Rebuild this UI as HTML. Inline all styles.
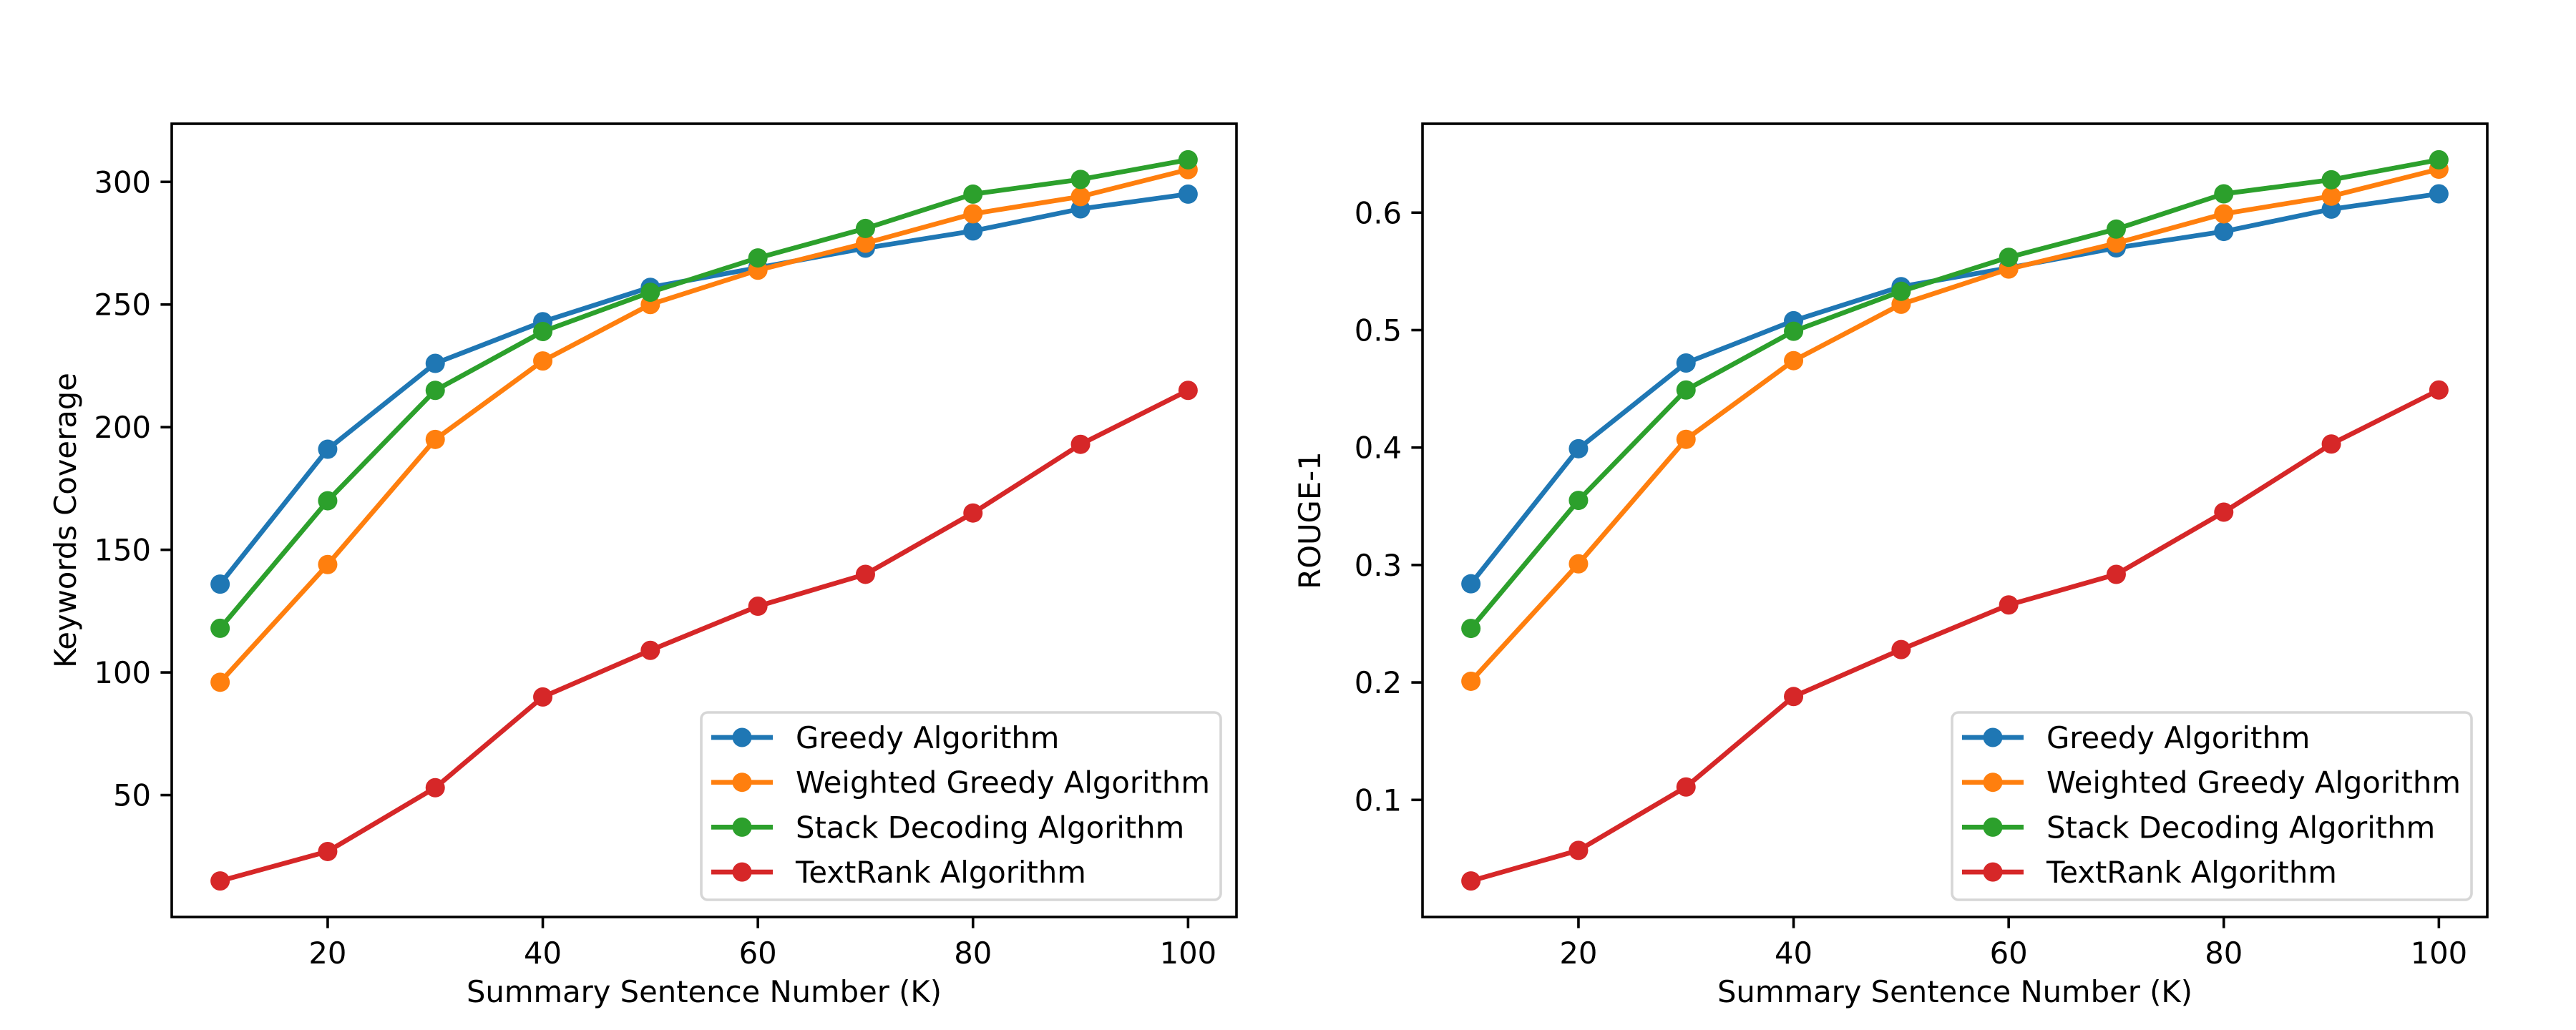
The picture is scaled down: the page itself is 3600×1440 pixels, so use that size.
<!DOCTYPE html>
<html><head><meta charset="utf-8"><style>
html,body{margin:0;padding:0;background:#fff}
svg{display:block;font-family:"DejaVu Sans","Liberation Sans",sans-serif}
</style></head><body>
<svg id="fig" width="3600" height="1440" viewBox="0 0 3600 1440" xmlns="http://www.w3.org/2000/svg"></svg>
<script>
const xValues = [10,20,30,40,50,60,70,80,90,100];
const xTicks = [20,40,60,80,100];
const seriesNames = ["Greedy Algorithm","Weighted Greedy Algorithm","Stack Decoding Algorithm","TextRank Algorithm"];
const seriesColors = ["#1f77b4","#ff7f0e","#2ca02c","#d62728"];
const kwGreedy = [136,191,226,243,257,265,273,280,289,295];
const kwWeighted = [96,144,195,227,250,264,275,287,294,305];
const kwStack = [118,170,215,239,255,269,281,295,301,309];
const kwTextRank = [15,27,53,90,109,127,140,165,193,215];
const kwTicks = [50,100,150,200,250,300];
const rgGreedy = [0.284,0.399,0.472,0.508,0.537,0.553,0.570,0.584,0.603,0.616];
const rgWeighted = [0.201,0.301,0.407,0.474,0.522,0.552,0.574,0.599,0.614,0.637];
const rgStack = [0.246,0.355,0.449,0.499,0.533,0.562,0.586,0.616,0.628,0.645];
const rgTextRank = [0.031,0.057,0.111,0.188,0.228,0.266,0.292,0.345,0.403,0.449];
const rgTicks = [0.1,0.2,0.3,0.4,0.5,0.6];

const NS = "http://www.w3.org/2000/svg";
const fig = document.getElementById('fig');
const FS = 41.7;
function mk(tag, attrs, parent){
  const e = document.createElementNS(NS, tag);
  for (const k in attrs) e.setAttribute(k, attrs[k]);
  (parent||fig).appendChild(e);
  return e;
}
function drawPanel(px, series, yTicks, yLabel, fmt, prefix){
  const L = px, R = px + 1488, T = 173, B = 1282;
  const all = [].concat(...series);
  const xmin = Math.min(...xValues), xmax = Math.max(...xValues);
  const ymin = Math.min(...all), ymax = Math.max(...all);
  const xm = (xmax-xmin)*0.05, ym = (ymax-ymin)*0.05;
  const x0 = xmin-xm, x1 = xmax+xm, y0 = ymin-ym, y1 = ymax+ym;
  const sx = v => L + (v-x0)/(x1-x0)*(R-L);
  const sy = v => B - (v-y0)/(y1-y0)*(B-T);
  const g = mk('g', {});
  
  
  series.forEach((s, i) => {
    const pts = s.map((v, j) => sx(xValues[j]).toFixed(1)+','+sy(v).toFixed(1)).join(' ');
    const pl = mk('polyline', {points: pts, fill:'none', stroke: seriesColors[i], 'stroke-width': 6.7, 'stroke-linejoin':'round','stroke-linecap':'square'}, g);
    
    
    s.forEach((v, j) => {
      const c = mk('circle', {cx: sx(xValues[j]), cy: sy(v), r: 13.5, fill: seriesColors[i]}, g);
      
      
    });
  });
  const fr = mk('rect', {x: L, y: T, width: R-L, height: B-T, fill:'none', stroke:'#000', 'stroke-width': 3.6}, g);
  
  
  xTicks.forEach(t => {
    const x = sx(t);
    mk('line', {x1:x, x2:x, y1:B, y2:B+15.6, stroke:'#000','stroke-width':3.6}, g);
    const tx = mk('text', {x:x, y:B+65, 'font-size':FS, 'text-anchor':'middle', fill:'#000'}, g);
    tx.textContent = t;
    
    
  });
  yTicks.forEach(t => {
    const y = sy(t);
    mk('line', {x1:L-15.6, x2:L, y1:y, y2:y, stroke:'#000','stroke-width':3.6}, g);
    const tx = mk('text', {x:L-29, y:y+15, 'font-size':FS, 'text-anchor':'end', fill:'#000'}, g);
    tx.textContent = fmt(t);
    
    
  });
  const xl = mk('text', {x:(L+R)/2, y:1401, 'font-size':FS, 'text-anchor':'middle', fill:'#000'}, g);
  xl.textContent = 'Summary Sentence Number (K)';
  
  
  const yx = prefix==='kw' ? 106 : L-143;
  const yl = mk('text', {x:0, y:0, 'font-size':FS, 'text-anchor':'middle', fill:'#000', transform:'translate('+yx+','+((T+B)/2)+') rotate(-90)'}, g);
  yl.textContent = yLabel;
  
  
  const lw = 726, lh = 262, lx = R-22-lw, ly = B-24-lh;
  const lg = mk('g', {}, g);
  
  
  mk('rect', {x:lx, y:ly, width:lw, height:lh, rx:9, fill:'#fff', 'fill-opacity':0.8, stroke:'#d6d6d6','stroke-width':3.6}, lg);
  seriesNames.forEach((n, i) => {
    const y = ly + 35 + i*62.7;
    mk('line', {x1:lx+14, x2:lx+100, y1:y, y2:y, stroke:seriesColors[i],'stroke-width':6.7}, lg);
    mk('circle', {cx:lx+57, cy:y, r:13.5, fill:seriesColors[i]}, lg);
    const t = mk('text', {x:lx+132, y:y+15, 'font-size':FS, fill:'#000'}, lg);
    t.textContent = n;
    
    
  });
}
drawPanel(240, [kwGreedy,kwWeighted,kwStack,kwTextRank], kwTicks, 'Keywords Coverage', v=>String(v), 'kw');
drawPanel(1988, [rgGreedy,rgWeighted,rgStack,rgTextRank], rgTicks, 'ROUGE-1', v=>v.toFixed(1), 'rg');
</script>
</body></html>
